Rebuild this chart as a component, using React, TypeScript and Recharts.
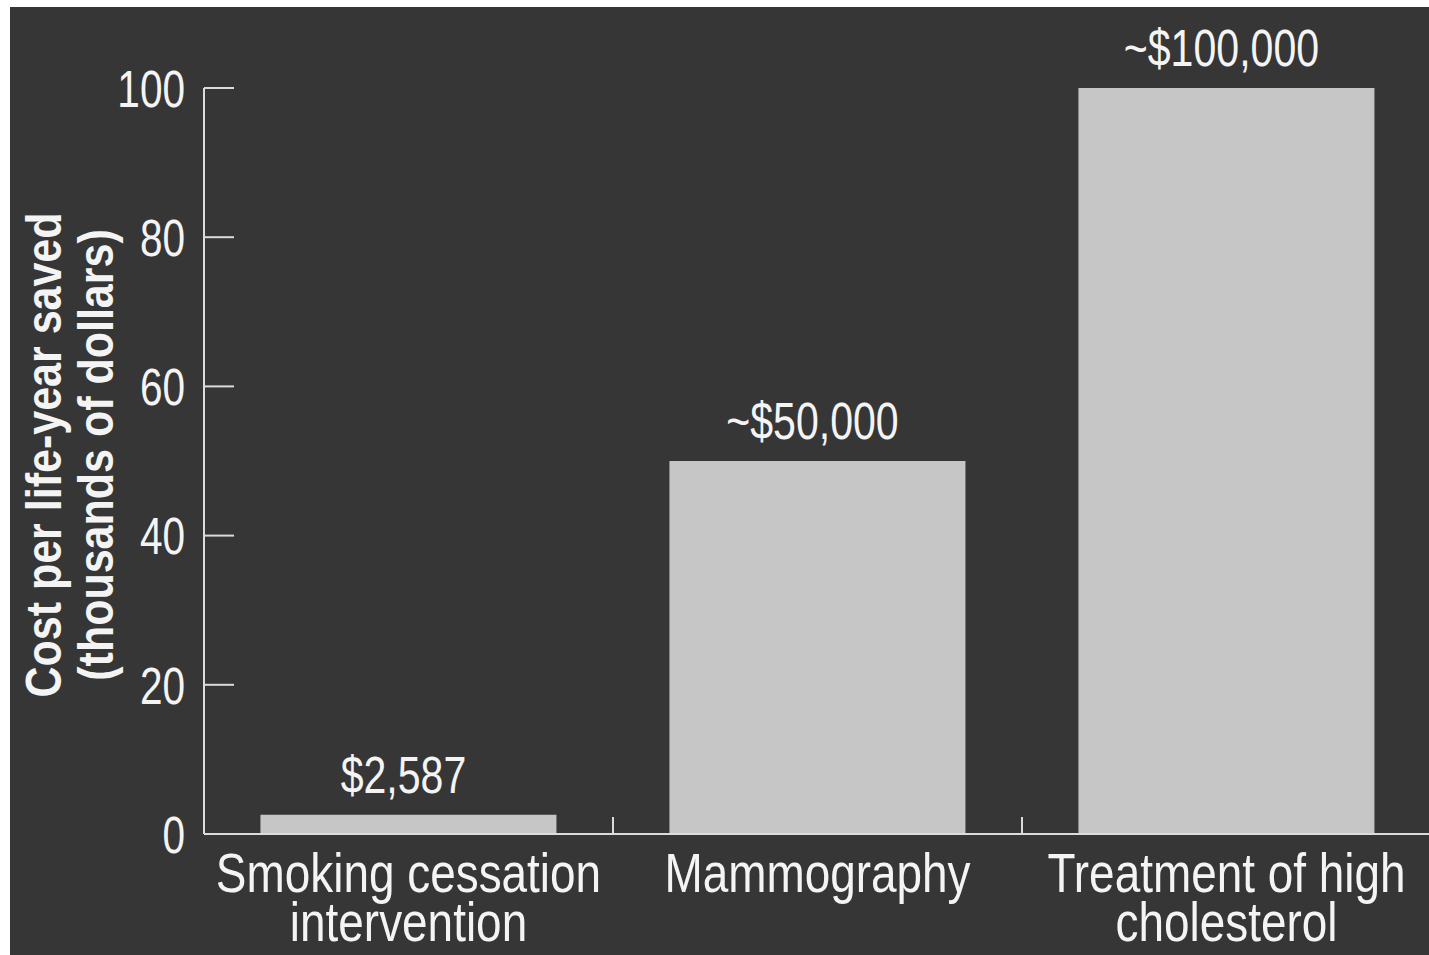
import React from "react";
import { BarChart, Bar, XAxis, YAxis, LabelList } from "recharts";

const categories = ["Smoking cessation\nintervention", "Mammography", "Treatment of high\ncholesterol"];
const costs = [2.587, 50, 100]; // thousands of dollars
const valueLabels = ["$2,587", "~$50,000", "~$100,000"];
const yTicks = [0, 20, 40, 60, 80, 100];

const data = categories.map((name, i) => ({ name, cost: costs[i], label: valueLabels[i] }));

const FONT = "'Liberation Sans', Arial, sans-serif";
const TEXT = "#f4f4f4";
const LINE = "#dcdcdc";

// no narrow font installed, so squeeze the text horizontally
const CategoryTick = (props: any) => {
    const { x, y, payload } = props;
    const lines = String(payload.value).split("\n");
    // small upward tick on the left edge of each band (except the first)
    const edge = x - (payload.offset || 0);
    return (
        <g>
            {payload.index > 0 && (
                <line x1={edge} x2={edge} y1={y} y2={y - 17} stroke={LINE} strokeWidth={2} />
            )}
            <g transform={`translate(${x} ${y}) scale(0.82 1)`}>
                <text x={0} y={0} textAnchor="middle" fill={TEXT} fontSize={56} fontFamily={FONT}>
                    {lines.map((l, i) => (
                        <tspan key={i} x={0} dy={i === 0 ? 58 : 49}>
                            {l}
                        </tspan>
                    ))}
                </text>
            </g>
        </g>
    );
};

const ValueTick = (props: any) => {
    const { x, y, payload } = props;
    return (
        <g transform={`translate(${x} ${y}) scale(0.78 1)`}>
            <text x={0} y={0} dy="0.36em" textAnchor="end" fill={TEXT} fontSize={52} fontFamily={FONT}>
                {payload.value}
            </text>
        </g>
    );
};

const BarLabel = (props: any) => {
    const { x, y, width, value } = props;
    const cx = x + width / 2 - 5;
    return (
        <g transform={`translate(${cx} ${y - 22}) scale(0.79 1)`}>
            <text x={0} y={0} textAnchor="middle" fill={TEXT} fontSize={52} fontFamily={FONT}>
                {value}
            </text>
        </g>
    );
};

const AxisTitle = (props: any) => {
    const { viewBox } = props;
    const cy = viewBox.y + viewBox.height / 2 - 6;
    return (
        <g fill={TEXT} fontFamily={FONT} fontWeight="bold" fontSize={50} textAnchor="middle">
            <text transform={`translate(51 ${cy}) rotate(-90) scale(0.86 1)`}>Cost per life-year saved</text>
            <text transform={`translate(103 ${cy}) rotate(-90) scale(0.86 1)`}>(thousands of dollars)</text>
        </g>
    );
};

export default function App() {
    return (
        <div style={{ position: "fixed", left: 0, top: 0, width: 1429, height: 955, background: "#fff", overflow: "hidden" }}>
            <div style={{ position: "absolute", left: 10, top: 7, width: 1419, height: 948, background: "#363636", overflow: "hidden" }}>
                <BarChart
                    width={1421}
                    height={948}
                    data={data}
                    margin={{ top: 81, right: 0, bottom: 0, left: 0 }}
                    barCategoryGap="13.8%"
                >
                    <XAxis
                        dataKey="name"
                        height={121}
                        axisLine={{ stroke: LINE, strokeWidth: 2 }}
                        tickLine={false}
                        tickSize={0}
                        tickMargin={0}
                        tick={<CategoryTick />}
                        interval={0}
                    />
                    <YAxis
                        width={194}
                        domain={[0, 100]}
                        ticks={yTicks}
                        interval={0}
                        axisLine={{ stroke: LINE, strokeWidth: 2 }}
                        tickLine={{ stroke: LINE, strokeWidth: 2 }}
                        tickSize={-30}
                        tickMargin={49}
                        tick={<ValueTick />}
                        label={<AxisTitle />}
                    />
                    <Bar dataKey="cost" fill="#c6c6c6" isAnimationActive={false}>
                        <LabelList dataKey="label" content={<BarLabel />} />
                    </Bar>
                </BarChart>
            </div>
        </div>
    );
}
